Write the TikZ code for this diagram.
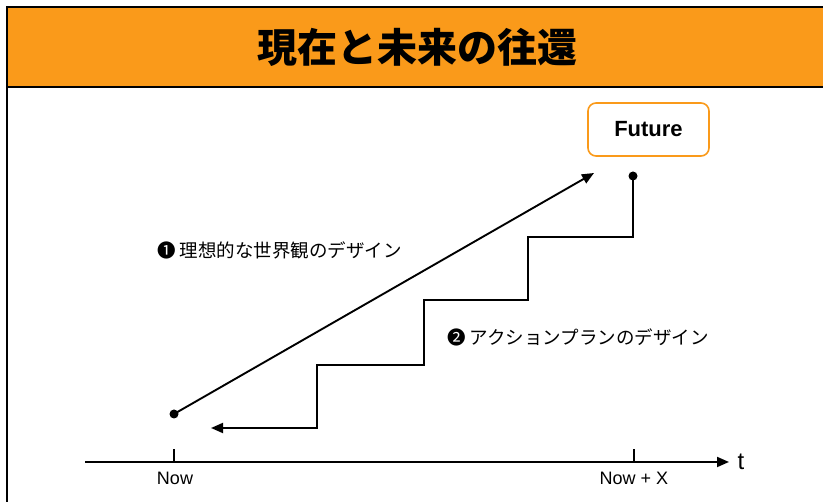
\documentclass[tikz,border=0pt]{standalone}
\usepackage{fontspec}
\setmainfont{Liberation Sans}
\newfontfamily\cjk{Noto Sans CJK JP}
\usetikzlibrary{arrows.meta}
\definecolor{hdr}{HTML}{FA9A1A}
\tikzset{
  conn/.style={line width=1.9pt, -{Triangle[length=12pt,width=10pt]}},
  plain/.style={line width=1.9pt},
  dotnode/.style={circle, fill=black, inner sep=0pt, minimum size=9pt},
  lbl/.style={font=\cjk\fontsize{18.5}{22}\selectfont, anchor=west, inner sep=0pt},
  axlbl/.style={font=\fontsize{18}{20}\selectfont, inner sep=0pt},
  futbox/.style={draw=hdr, line width=1.6pt, rounded corners=8pt, fill=white,
    minimum width=121pt, minimum height=53pt, font=\bfseries\fontsize{22}{24}\selectfont},
}
\begin{document}
\begin{tikzpicture}[x=1pt, y=-1pt]
\useasboundingbox (0,0) rectangle (823,502);
\clip (0,0) rectangle (823,502);
% frame and header
\fill[hdr] (7,7) rectangle (840,87);
\draw[line width=2.5pt] (7,520) -- (7,7) -- (840,7);
\draw[line width=2.5pt] (7,87) -- (840,87);
\node[font=\cjk\bfseries\fontsize{40}{42}\selectfont, inner sep=0pt] (title) at (417,47) {現在と未来の往還};
% future box
\node[futbox] (future) at (648.5,129.5) {Future};
% axis
\coordinate (axs) at (85,462);
\coordinate (axe) at (729,462);
\draw[conn] (axs) -- (axe);
\node[font=\fontsize{24}{26}\selectfont, inner sep=0pt] (t) at (741,462) {t};
\coordinate (tk1) at (174,462);
\coordinate (tk1t) at (174,449);
\coordinate (tk2) at (634,462);
\coordinate (tk2t) at (634,449);
\draw[plain] (tk1) -- (tk1t);
\draw[plain] (tk2) -- (tk2t);
\node[axlbl] (now) at (175,478) {Now};
\node[axlbl] (nowx) at (634,478) {Now + X};
% ideal arrow
\node[dotnode] (d1) at (174,414) {};
\coordinate (tip1) at (594,173);
\draw[conn] (d1.center) -- (tip1);
% staircase
\node[dotnode] (d2) at (633,176) {};
\coordinate (tip2) at (211,428);
\draw[conn] (d2.center) -- (633,237) -- (528,237) -- (528,300) -- (424,300) -- (424,365) -- (317,365) -- (317,428) -- (tip2);
% labels
\node[lbl] (l1) at (157,250) {❶ 理想的な世界観のデザイン};
\node[lbl] (l2) at (447,337) {❷ アクションプランのデザイン};
\end{tikzpicture}
\end{document}
